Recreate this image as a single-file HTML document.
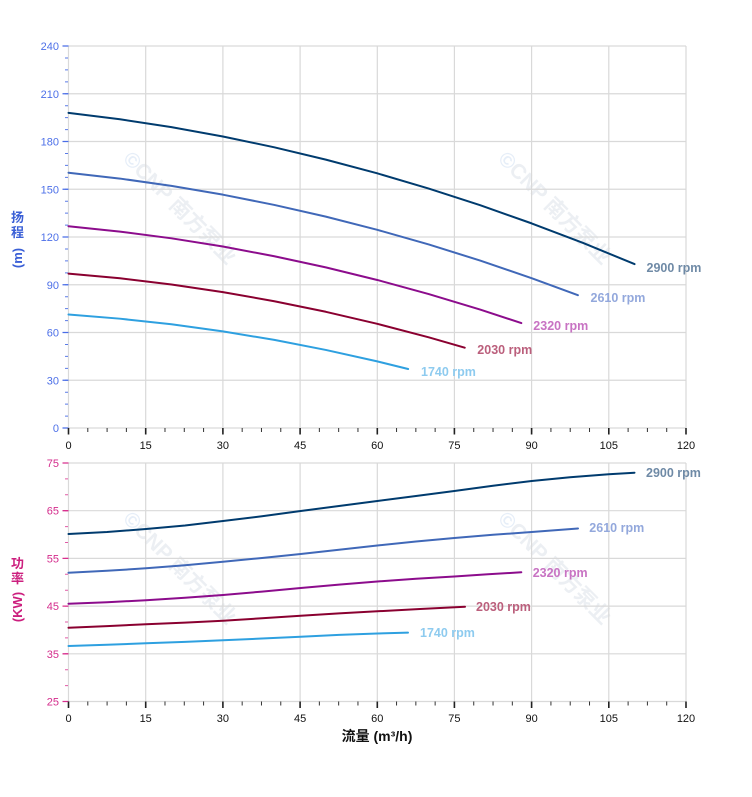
<!DOCTYPE html>
<html><head><meta charset="utf-8"><style>
html,body{margin:0;padding:0;background:#fff;}
svg{display:block;font-family:"Liberation Sans","Noto Sans CJK SC",sans-serif;}
</style></head><body>
<svg width="752" height="797" viewBox="0 0 752 797" xmlns="http://www.w3.org/2000/svg">
<rect width="752" height="797" fill="#fff"/>

<!-- watermarks -->
<g font-weight="bold" font-size="21" fill="#eceff3">
  <text transform="translate(122,160) rotate(45)"><tspan fill="#e6eef8">©</tspan>CNP 南方泵业</text>
  <text transform="translate(497,160) rotate(45)"><tspan fill="#e6eef8">©</tspan>CNP 南方泵业</text>
  <text transform="translate(122,520) rotate(45)"><tspan fill="#e6eef8">©</tspan>CNP 南方泵业</text>
  <text transform="translate(497,520) rotate(45)"><tspan fill="#e6eef8">©</tspan>CNP 南方泵业</text>
</g>

<!-- ============ TOP CHART ============ -->
<g stroke="#d9d9d9" stroke-width="1.2" fill="none">
  <path d="M68.5 46H686M68.5 93.75H686M68.5 141.5H686M68.5 189.25H686M68.5 237H686M68.5 284.75H686M68.5 332.5H686M68.5 380.25H686"/>
  <path d="M145.7 46V428M222.9 46V428M300.1 46V428M377.3 46V428M454.4 46V428M531.6 46V428M608.8 46V428M686 46V428"/>
  <path d="M68.5 46V428"/>
  <path d="M68.5 428H686"/>
</g>
<line x1="66.5" y1="45.5" x2="66.5" y2="429" stroke="#5a7ae6" stroke-width="3" stroke-dasharray="1 10.9375"/>
<path d="M62.5 46H68.5M62.5 93.75H68.5M62.5 141.5H68.5M62.5 189.25H68.5M62.5 237H68.5M62.5 284.75H68.5M62.5 332.5H68.5M62.5 380.25H68.5M62.5 428H68.5" stroke="#4a6de6" stroke-width="1.3"/>
<line x1="68" y1="430" x2="687" y2="430" stroke="#333" stroke-width="4" stroke-dasharray="1 18.297"/>
<path d="M68.5 428V434.5M145.7 428V434.5M222.9 428V434.5M300.1 428V434.5M377.3 428V434.5M454.4 428V434.5M531.6 428V434.5M608.8 428V434.5M686 428V434.5" stroke="#222" stroke-width="1.6"/>

<g font-size="11" fill="#4d70e8" text-anchor="end">
  <text x="59" y="50">240</text>
  <text x="59" y="97.75">210</text>
  <text x="59" y="145.5">180</text>
  <text x="59" y="193.25">150</text>
  <text x="59" y="241">120</text>
  <text x="59" y="288.75">90</text>
  <text x="59" y="336.5">60</text>
  <text x="59" y="384.25">30</text>
  <text x="59" y="432">0</text>
</g>
<g font-size="11" fill="#111" text-anchor="middle">
  <text x="68.5" y="449">0</text>
  <text x="145.7" y="449">15</text>
  <text x="222.9" y="449">30</text>
  <text x="300.1" y="449">45</text>
  <text x="377.3" y="449">60</text>
  <text x="454.4" y="449">75</text>
  <text x="531.6" y="449">90</text>
  <text x="608.8" y="449">105</text>
  <text x="686" y="449">120</text>
</g>

<g font-size="13" font-weight="bold" fill="#3a5fd6" text-anchor="middle">
  <text x="17.5" y="222">扬</text>
  <text x="17.5" y="237">程</text>
  <text transform="translate(22,258) rotate(-90)">(m)</text>
</g>

<g fill="none" stroke-width="2" stroke-linejoin="round" stroke-linecap="round">
  <polyline stroke="#003b6e" points="68.5,112.85 119.96,119.26 171.42,127.14 222.87,136.5 274.33,147.31 325.79,159.6 377.25,173.33 428.71,188.55 480.16,205.23 531.62,223.38 583.08,242.98 634.54,264.06"/>
  <polyline stroke="#4068b8" points="68.5,172.73 119.96,178.57 171.42,185.89 222.87,194.67 274.33,204.92 325.79,216.63 377.25,229.8 428.71,244.45 480.16,260.56 531.62,278.14 577.93,295.21"/>
  <polyline stroke="#8c0c8c" points="68.5,226.3 119.96,231.59 171.42,238.32 222.87,246.54 274.33,256.22 325.79,267.36 377.25,279.97 428.71,294.05 480.16,309.59 521.33,323.08"/>
  <polyline stroke="#8a0030" points="68.5,273.58 119.96,278.29 171.42,284.46 222.87,292.1 274.33,301.22 325.79,311.79 377.25,323.83 428.71,337.34 464.73,347.67"/>
  <polyline stroke="#2ea0e0" points="68.5,314.55 119.96,318.69 171.42,324.3 222.87,331.37 274.33,339.91 325.79,349.92 377.25,361.39 408.12,368.98"/>
</g>
<g font-size="12.5" font-weight="bold">
  <text x="646.5" y="272" fill="#6f8aa6">2900 rpm</text>
  <text x="590.5" y="302" fill="#93a8dc">2610 rpm</text>
  <text x="533.3" y="330" fill="#c873c3">2320 rpm</text>
  <text x="477.3" y="354" fill="#bb5f7c">2030 rpm</text>
  <text x="421" y="376" fill="#8ecbef">1740 rpm</text>
</g>

<!-- ============ BOTTOM CHART ============ -->
<g stroke="#d9d9d9" stroke-width="1.2" fill="none">
  <path d="M68.5 463H686M68.5 510.7H686M68.5 558.4H686M68.5 606.1H686M68.5 653.8H686"/>
  <path d="M145.7 463V701.5M222.9 463V701.5M300.1 463V701.5M377.3 463V701.5M454.4 463V701.5M531.6 463V701.5M608.8 463V701.5M686 463V701.5"/>
  <path d="M68.5 463V701.5"/>
  <path d="M68.5 701.5H686"/>
</g>
<line x1="66.5" y1="462.5" x2="66.5" y2="702" stroke="#e05aa5" stroke-width="3" stroke-dasharray="1 14.9"/>
<path d="M62.5 463H68.5M62.5 510.7H68.5M62.5 558.4H68.5M62.5 606.1H68.5M62.5 653.8H68.5M62.5 701.5H68.5" stroke="#d8308e" stroke-width="1.3"/>
<line x1="68" y1="703.5" x2="687" y2="703.5" stroke="#333" stroke-width="4" stroke-dasharray="1 18.297"/>
<path d="M68.5 701.5V708M145.7 701.5V708M222.9 701.5V708M300.1 701.5V708M377.3 701.5V708M454.4 701.5V708M531.6 701.5V708M608.8 701.5V708M686 701.5V708" stroke="#222" stroke-width="1.6"/>

<g font-size="11" fill="#d42c8c" text-anchor="end">
  <text x="59" y="467">75</text>
  <text x="59" y="514.7">65</text>
  <text x="59" y="562.4">55</text>
  <text x="59" y="610.1">45</text>
  <text x="59" y="657.8">35</text>
  <text x="59" y="705.5">25</text>
</g>
<g font-size="11" fill="#111" text-anchor="middle">
  <text x="68.5" y="722">0</text>
  <text x="145.7" y="722">15</text>
  <text x="222.9" y="722">30</text>
  <text x="300.1" y="722">45</text>
  <text x="377.3" y="722">60</text>
  <text x="454.4" y="722">75</text>
  <text x="531.6" y="722">90</text>
  <text x="608.8" y="722">105</text>
  <text x="686" y="722">120</text>
</g>

<g font-size="13" font-weight="bold" fill="#cc1f7e" text-anchor="middle">
  <text x="17.5" y="568">功</text>
  <text x="17.5" y="583">率</text>
  <text transform="translate(22,607) rotate(-90)">(KW)</text>
</g>

<text x="377" y="741" font-size="14" font-weight="bold" fill="#111" text-anchor="middle">流量 (m³/h)</text>

<g fill="none" stroke-width="2" stroke-linejoin="round" stroke-linecap="round">
  <polyline stroke="#003b6e" points="68.5,534 107,532 146,529 185,525.5 223,521 262,516.3 300.7,511 339,506 377.3,501 416,496 454.3,491 493,485.7 531.7,481 570,477.3 608.7,474.3 634.5,472.7"/>
  <polyline stroke="#4068b8" points="68.5,572.7 107,570.8 146,568.3 185,565.2 223,561.7 262,558 300.7,554 339,549.7 377.3,545.5 416,541.5 454.3,538 493,534.8 531.7,532 578,528.5"/>
  <polyline stroke="#8c0c8c" points="68.5,603.7 107,602.2 146,600.3 185,597.8 223,595 262,591.6 300.7,588 339,584.6 377.3,581.5 416,578.8 454.3,576.5 488,574.3 521.3,572.3"/>
  <polyline stroke="#8a0030" points="68.5,627.7 107,626.1 146,624.3 185,622.6 223,620.7 262,618.3 300.7,615.7 339,613.4 377.3,611.3 420,609 465,606.7"/>
  <polyline stroke="#2ea0e0" points="68.5,646 107,644.7 146,643.3 185,641.9 223,640.3 262,638.5 300.7,636.7 339,634.9 377.3,633.5 408,632.6"/>
</g>
<g font-size="12.5" font-weight="bold">
  <text x="646" y="477" fill="#6f8aa6">2900 rpm</text>
  <text x="589.3" y="532" fill="#93a8dc">2610 rpm</text>
  <text x="532.7" y="577" fill="#c873c3">2320 rpm</text>
  <text x="476" y="611" fill="#bb5f7c">2030 rpm</text>
  <text x="420" y="637" fill="#8ecbef">1740 rpm</text>
</g>
</svg>
</body></html>
